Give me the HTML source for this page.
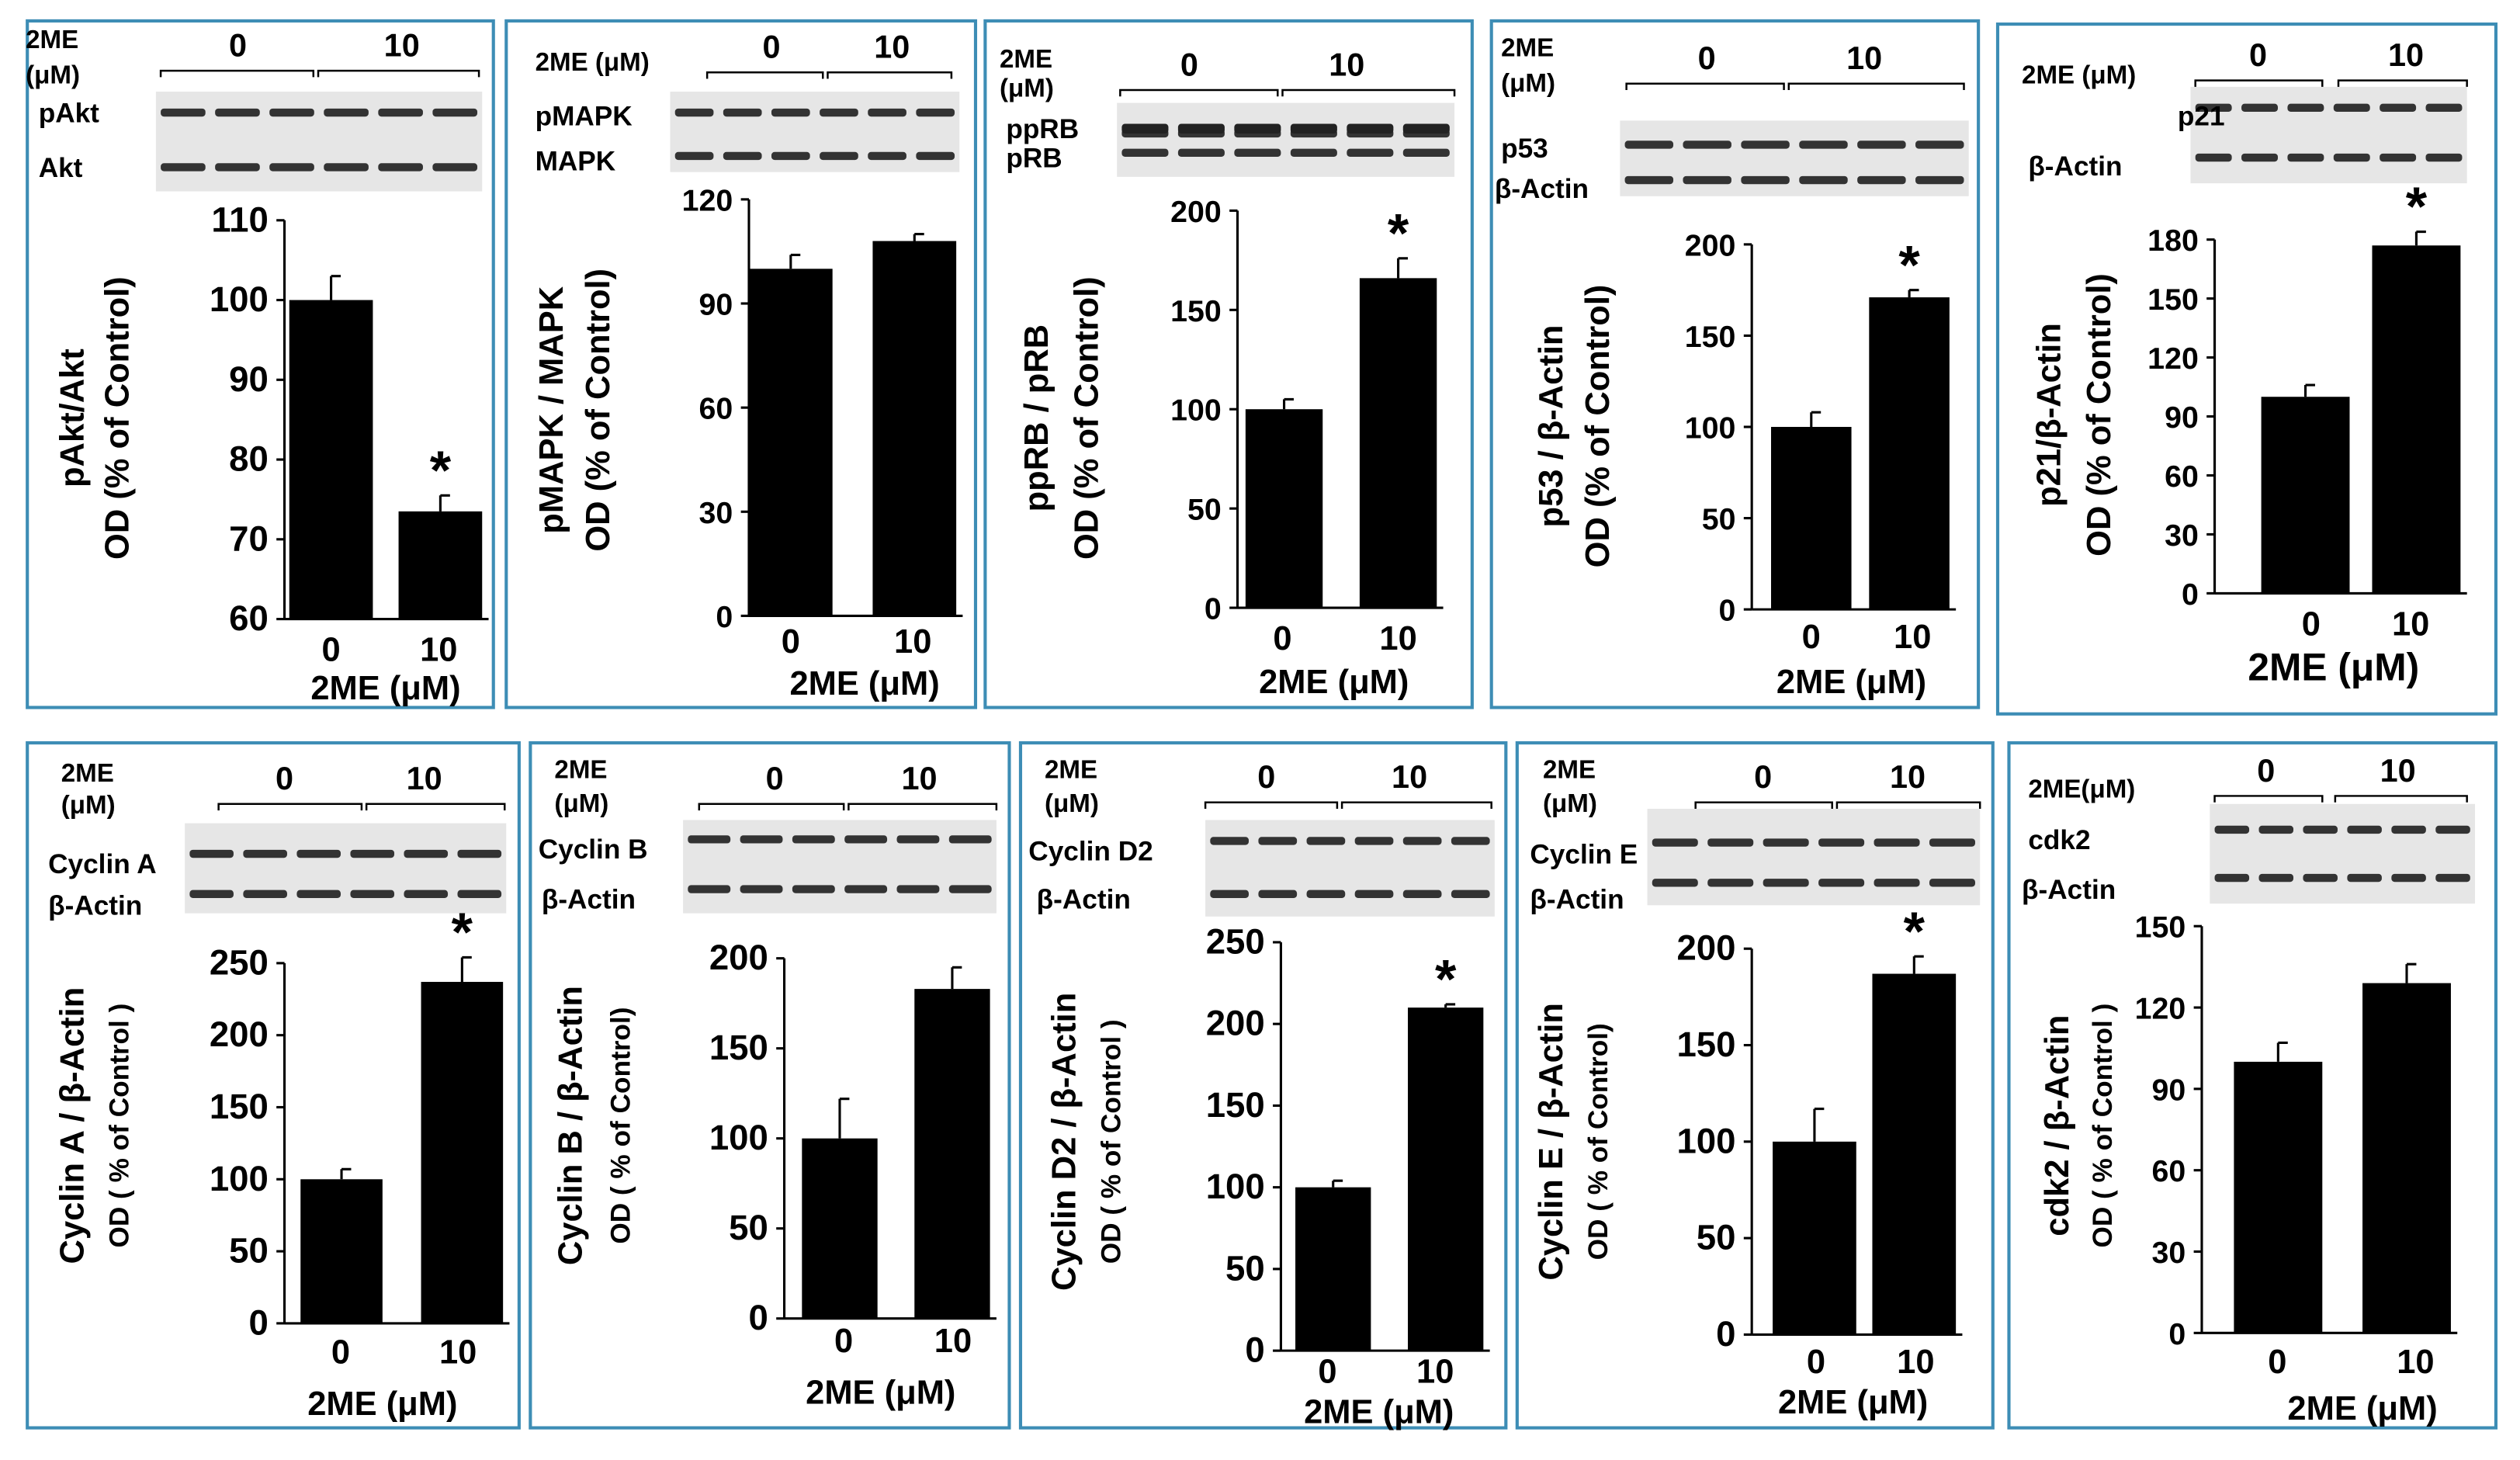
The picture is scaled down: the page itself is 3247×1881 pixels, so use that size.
<!DOCTYPE html>
<html><head><meta charset="utf-8"><style>
html,body{margin:0;padding:0;background:#fff}
svg{display:block}
text{font-family:"Liberation Sans",Arial,sans-serif;font-weight:bold;fill:#000}
</style></head><body>
<svg id="fig" width="3247" height="1881" viewBox="0 0 1568 908" preserveAspectRatio="none" xmlns="http://www.w3.org/2000/svg"></svg>
<script>
const categories=['0','10'];
const means=[[100,73.5],[100,108],[100,166],[100,171],[100,177],[100,237],[100,183],[100,210],[100,187],[100,129]];
const errs=[[3,2],[4,2],[5,10],[8,4],[6,7],[7,17],[22,12],[4,2],[17,9],[7,7]];
const ticks=[[60,70,80,90,100,110],[0,30,60,90,120],[0,50,100,150,200],[0,50,100,150,200],[0,30,60,90,120,150,180],[0,50,100,150,200,250],[0,50,100,150,200],[0,50,100,150,200,250],[0,50,100,150,200],[0,30,60,90,120,150]];
const titles=['pAkt/Akt','pMAPK / MAPK','ppRB / pRB','p53 / β-Actin','p21/β-Actin','Cyclin A / β-Actin','Cyclin B / β-Actin','Cyclin D2 / β-Actin','Cyclin E / β-Actin','cdk2 / β-Actin'];
const subtitles=['OD (% of Control)','OD (% of Control)','OD (% of Control)','OD (% of Control)','OD (% of Control)','OD ( % of Control )','OD ( % of Control)','OD ( % of Control )','OD ( % of Control)','OD ( % of Control )'];
const blotNames=[['pAkt','Akt'],['pMAPK','MAPK'],['ppRB','pRB'],['p53','β-Actin'],['p21','β-Actin'],['Cyclin A','β-Actin'],['Cyclin B','β-Actin'],['Cyclin D2','β-Actin'],['Cyclin E','β-Actin'],['cdk2','β-Actin']];
const stars=[true,false,true,true,true,true,false,true,true,false];
// layout (pixel positions)
const L=[
{f:[17,13,290,427],ax:177,yt:137,yb:385,b:[180,248],bw:52,lx:[206,273],ly:403,xt:[240,428],tx:[45,73],tc:260,bl:[97,57,203,62],bands:[70,104],nl:[24,70,24,104],hd:[16,30,16,52],hg:[[100,195,148],[198,298,250]],hy:44},
{f:[315,13,292,427],ax:466,yt:124,yb:383,b:[466,543],bw:52,lx:[492,568],ly:398,xt:[538,425],tx:[343,372],tc:255,bl:[417,57,180,50],bands:[70,97],nl:[333,72,333,100],hd:[333,38,null,null],hg:[[440,512,480],[515,592,555]],hy:45},
{f:[613,13,303,427],ax:770,yt:131,yb:378,b:[775,846],bw:48,lx:[798,870],ly:396,xt:[830,424],tx:[645,676],tc:260,bl:[695,64,210,46],bands:[83,95],nl:[626,80,626,98],hd:[622,42,622,60],hg:[[697,795,740],[798,905,838]],hy:56},
{f:[928,13,303,427],ax:1090,yt:152,yb:379,b:[1102,1163],bw:50,lx:[1127,1190],ly:395,xt:[1152,424],tx:[965,994],tc:265,bl:[1008,75,217,47],bands:[90,112],nl:[934,92,930,117],hd:[934,35,934,57],hg:[[1012,1110,1062],[1113,1222,1160]],hy:52},
{f:[1243,15,310,429],ax:1378,yt:149,yb:369,b:[1407,1476],bw:55,lx:[1438,1500],ly:387,xt:[1452,416],tx:[1275,1306],tc:258,bl:[1363,54,172,60],bands:[67,98],nl:[1355,72,1262,103],hd:[1258,46,null,null],hg:[[1366,1445,1405],[1455,1535,1497]],hy:50},
{f:[17,462,306,426],ax:177,yt:599,yb:823,b:[187,262],bw:51,lx:[212,285],ly:840,xt:[238,873],tx:[45,73],tc:700,bl:[115,512,200,56],bands:[531,556],nl:[30,537,30,563],hd:[38,486,38,506],hg:[[136,225,177],[228,314,264]],hy:500},
{f:[330,462,298,426],ax:488,yt:596,yb:820,b:[499,569],bw:47,lx:[525,593],ly:833,xt:[548,866],tx:[355,385],tc:700,bl:[425,510,195,58],bands:[522,553],nl:[335,528,337,559],hd:[345,484,345,505],hg:[[435,525,482],[528,620,572]],hy:500},
{f:[635,462,302,426],ax:797,yt:586,yb:840,b:[806,876],bw:47,lx:[826,893],ly:852,xt:[858,878],tx:[662,690],tc:710,bl:[750,510,180,60],bands:[523,556],nl:[640,529,645,559],hd:[650,484,650,505],hg:[[750,832,788],[835,928,877]],hy:499},
{f:[944,462,296,426],ax:1090,yt:590,yb:830,b:[1103,1165],bw:52,lx:[1130,1192],ly:846,xt:[1153,872],tx:[965,993],tc:710,bl:[1025,503,207,60],bands:[524,549],nl:[952,531,952,559],hd:[960,484,960,505],hg:[[1055,1140,1097],[1143,1232,1187]],hy:499},
{f:[1250,462,303,426],ax:1370,yt:576,yb:829,b:[1390,1470],bw:55,lx:[1417,1503],ly:846,xt:[1470,876],tx:[1280,1307],tc:700,bl:[1375,500,165,62],bands:[516,546],nl:[1262,522,1258,553],hd:[1262,490,null,null],hg:[[1378,1445,1410],[1453,1535,1492]],hy:495}
];
const NS='http://www.w3.org/2000/svg';
const svg=document.getElementById('fig');
function el(tag,attrs,parent,txt){const e=document.createElementNS(NS,tag);for(const k in attrs)e.setAttribute(k,attrs[k]);if(txt!==undefined)e.textContent=txt;(parent||svg).appendChild(e);return e;}
L.forEach((p,i)=>{
  const g=el('g',{});
  
  
  const fr=el('rect',{x:p.f[0],y:p.f[1],width:p.f[2],height:p.f[3],fill:'none',stroke:'#3d8db5','stroke-width':2},g);
  
  
  // blot
  const bl=el('g',{},g);
  
  
  el('rect',{x:p.bl[0],y:p.bl[1],width:p.bl[2],height:p.bl[3],fill:'#e6e6e6'},bl);
  const lw=p.bl[2]/6;
  p.bands.forEach(by=>{for(let k=0;k<6;k++){el('rect',{x:p.bl[0]+k*lw+3,y:by-2.5,width:lw-6,height:5,rx:2,fill:'#333'},bl);}});
  if(i===2){for(let k=0;k<6;k++){el('rect',{x:p.bl[0]+k*lw+3,y:p.bands[0]-6,width:lw-6,height:6,rx:2,fill:'#222'},bl);}}
  const nm=blotNames[i];
  const n1=el('text',{x:p.nl[0],y:p.nl[1]+6,'font-size':17},g,nm[0]);
  
  
  const n2=el('text',{x:p.nl[2],y:p.nl[3]+6,'font-size':17},g,nm[1]);
  
  
  // header
  if(p.hd[2]===null){
    const h=el('text',{x:p.hd[0],y:p.hd[1]+6,'font-size':16},g,i===9?'2ME(μM)':'2ME (μM)');
    
    
  } else {
    const h=el('text',{x:p.hd[0],y:p.hd[1],'font-size':16},g,'2ME');
    
    
    el('text',{x:p.hd[0],y:p.hd[3],'font-size':16},g,'(μM)');
  }
  p.hg.forEach((hg,k)=>{
    const t=el('text',{x:hg[2],y:p.hy-9,'font-size':20,'text-anchor':'middle'},g,categories[k]);
    
    
    el('path',{d:`M${hg[0]} ${p.hy+4}L${hg[0]} ${p.hy}L${hg[1]} ${p.hy}L${hg[1]} ${p.hy+4}`,fill:'none',stroke:'#000','stroke-width':1.2},g);
  });
  // chart
  const tk=ticks[i],mn=tk[0],mx=tk[tk.length-1];
  const Y=v=>p.yb-(v-mn)/(mx-mn)*(p.yb-p.yt);
  const ax=el('line',{x1:p.ax,y1:p.yt,x2:p.ax,y2:p.yb,stroke:'#000','stroke-width':1.5},g);
  
  
  const xa=el('line',{x1:p.ax,y1:p.yb,x2:p.b[1]+p.bw+4,y2:p.yb,stroke:'#000','stroke-width':1.5},g);
  
  
  tk.forEach(v=>{
    el('line',{x1:p.ax-5,y1:Y(v),x2:p.ax,y2:Y(v),stroke:'#000','stroke-width':1.5},g);
    const t=el('text',{x:p.ax-10,y:Y(v)+7,'font-size':i===0||i>=5&&i<=8?22:19,'text-anchor':'end'},g,String(v));
    
    
  });
  means[i].forEach((m,k)=>{
    const x=p.b[k],yv=Y(m);
    const r=el('rect',{x:x,y:yv,width:p.bw,height:p.yb-yv,fill:'#000'},g);
    
    
    const ye=Y(m+errs[i][k]),cx=x+p.bw/2;
    const e=el('path',{d:`M${cx} ${yv}L${cx} ${ye}M${cx} ${ye}L${cx+6} ${ye}`,stroke:'#000','stroke-width':1.5,fill:'none'},g);
    
    
    const lt=el('text',{x:p.lx[k],y:p.ly+8,'font-size':21,'text-anchor':'middle'},g,categories[k]);
    
    
    if(k===1&&stars[i]){
      const s=el('text',{x:cx,y:ye-4,'font-size':34,'text-anchor':'middle','font-weight':'normal'},g,'*');
      
      
    }
  });
  const xt=el('text',{x:p.xt[0],y:p.xt[1]+7,'font-size':i===4?24:21,'text-anchor':'middle'},g,'2ME (μM)');
  
  
  const t1=el('text',{x:p.tx[0],y:p.tc,'font-size':21,'text-anchor':'middle',transform:`rotate(-90 ${p.tx[0]} ${p.tc})`,dy:7},g,titles[i]);
  
  
  const t2=el('text',{x:p.tx[1],y:p.tc,'font-size':i>=5?17:21,'text-anchor':'middle',transform:`rotate(-90 ${p.tx[1]} ${p.tc})`,dy:7},g,subtitles[i]);
  
  
});
</script>
</body></html>
